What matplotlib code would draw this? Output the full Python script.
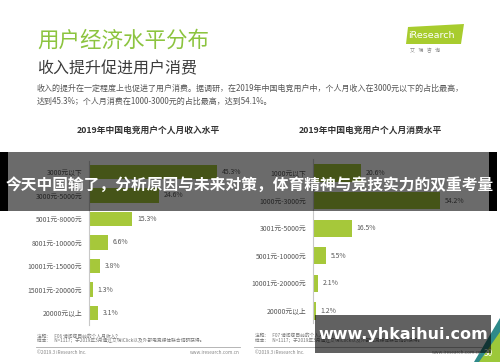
import matplotlib.pyplot as plt
from matplotlib.patches import Rectangle, Polygon

plt.rcParams['font.family'] = ['Noto Sans CJK SC', 'DejaVu Sans']

# data
income_labels = ["3000元以下", "3000元-5000元", "5001元-8000元", "8001元-10000元",
                 "10001元-15000元", "15001元-20000元", "20000元以上"]
income_values = [45.3, 24.6, 15.3, 6.6, 3.8, 1.3, 3.1]

spend_labels = ["1000元以下", "1000元-3000元", "3001元-5000元", "5001元-10000元",
                "10001元-20000元", "20000元以上"]
spend_values = [20.6, 54.2, 16.5, 5.5, 2.1, 1.2]

W, H = 500, 362
green = "#a6c83a"
gray_txt = "#555555"

fig = plt.figure(figsize=(5, 3.62), dpi=100)
fig.patch.set_facecolor("white")


def fx(x):
    return x / W


def fy(y):
    return 1 - y / H


def txt(x, y, s, **kw):
    fig.text(fx(x), fy(y), s, **kw)


# header
txt(37, 41, "用户经济水平分布", fontsize=15.5, color="#8cc43f", va="center")
txt(37, 69, "收入提升促进用户消费", fontsize=11.5, color="#3c3c3c", va="center")
txt(37, 88, "收入的提升在一定程度上也促进了用户消费。据调研，在2019年中国电竞用户中，个人月收入在3000元以下的占比最高，",
    fontsize=5.75, color=gray_txt, va="center")
txt(37, 101, "达到45.3%；个人月消费在1000-3000元的占比最高，达到54.1%。",
    fontsize=5.75, color=gray_txt, va="center")

# logo
fig.patches.append(Polygon([(fx(406), fy(44)), (fx(408), fy(27)), (fx(464), fy(24)), (fx(461), fy(44))],
                           closed=True, facecolor="#a8cc2e", edgecolor="none", transform=fig.transFigure))
txt(408, 35, "iResearch", fontsize=6.8, color="white", va="center", family="DejaVu Sans")
txt(410, 51, "艾   瑞   咨   询", fontsize=3.6, color="#888888", va="center")

# chart titles
txt(148, 130, "2019年中国电竞用户个人月收入水平", fontsize=6.3, color="#333333",
    fontweight="bold", ha="center", va="center")
txt(370, 130, "2019年中国电竞用户个人月消费水平", fontsize=6.3, color="#333333",
    fontweight="bold", ha="center", va="center")


def bar_panel(x0, x1, y0, y1, scale, first, step, labels, values, h):
    n = len(values)
    ax = fig.add_axes([fx(x0), fy(y1), fx(x1 - x0), (y1 - y0) / H])
    pos = list(range(n))
    ax.barh(pos, values, height=h, color=green)
    ax.set_xlim(0, (x1 - x0) / scale)
    ax.set_ylim((y1 - first) / step, (y0 - first) / step)
    for s in ["top", "right", "bottom"]:
        ax.spines[s].set_visible(False)
    ax.spines["left"].set_color("#c8c8c8")
    ax.spines["left"].set_linewidth(0.8)
    ax.set_xticks([])
    ax.set_yticks(pos)
    ax.set_yticklabels(labels, fontsize=4.9, color=gray_txt)
    ax.tick_params(axis="y", length=0, pad=5)
    for p, v in zip(pos, values):
        ax.text(v + 5 / scale, p, f"{v}%", fontsize=4.9, color=gray_txt, va="center")
    ax.patch.set_alpha(0)
    return ax


bar_panel(89, 240, 161, 325, 2.83, 172, 23.5, income_labels, income_values, 0.62)
bar_panel(313, 480, 159, 323, 2.34, 173, 27.6, spend_labels, spend_values, 0.62)

# footers
for x0, x1, q in [(37, 240, "F06 请问您目前的个人月收入？"), (255, 482, "F07 请问您目前的个人月消费？")]:
    txt(x0, 336, "注释：   " + q, fontsize=3.4, color="#777777", va="center")
    txt(x0, 341, "样本：   N=1117；于2019年3月通过艾瑞iClick以及外部电竞媒体联合调研获得。",
        fontsize=3.4, color="#777777", va="center")
    fig.add_artist(plt.Line2D([fx(x0 - 1), fx(x1)], [fy(346.5), fy(346.5)],
                              color="#aaaaaa", lw=0.6, transform=fig.transFigure))
    txt(x0, 353, "©2019.3 iResearch Inc.", fontsize=3.4, color="#888888", va="center")
    txt(x1, 353, "www.iresearch.com.cn", fontsize=3.4, color="#888888", va="center", ha="right")

# corner decoration
fig.patches.append(Polygon([(fx(500), fy(318)), (fx(500), fy(362)), (fx(474), fy(362))],
                           closed=True, facecolor="#2e8a8a", edgecolor="none", transform=fig.transFigure))
fig.patches.append(Polygon([(fx(500), fy(332)), (fx(500), fy(362)), (fx(479), fy(362))],
                           closed=True, facecolor="#9cc83a", edgecolor="none", transform=fig.transFigure))
txt(484, 354, "30", fontsize=6, color="white", va="center")

# overlay banner
fig.patches.append(Rectangle((fx(8), fy(211)), fx(481), 59 / H, facecolor="black", alpha=0.58,
                             edgecolor="none", transform=fig.transFigure, zorder=5))
fig.patches.append(Rectangle((0, fy(211)), fx(8), 59 / H, facecolor="black",
                             edgecolor="none", transform=fig.transFigure, zorder=5))
fig.patches.append(Rectangle((fx(489), fy(211)), fx(8), 59 / H, facecolor="black",
                             edgecolor="none", transform=fig.transFigure, zorder=5))
fig.text(fx(250), fy(185), "今天中国输了，分析原因与未来对策，体育精神与竞技实力的双重考量",
         fontsize=11.3, color="white", fontweight="bold", ha="center", va="center", zorder=6)

# watermark box
fig.patches.append(Rectangle((fx(315), fy(353)), fx(176), 38 / H, facecolor="black", alpha=0.62,
                             edgecolor="none", transform=fig.transFigure, zorder=5))
fig.text(fx(403), fy(334), "www.yhkaihui.com", fontsize=11.5, color="white", fontweight="bold",
         ha="center", va="center", family="DejaVu Sans", zorder=6)

fig.savefig("out.png", dpi=100)
